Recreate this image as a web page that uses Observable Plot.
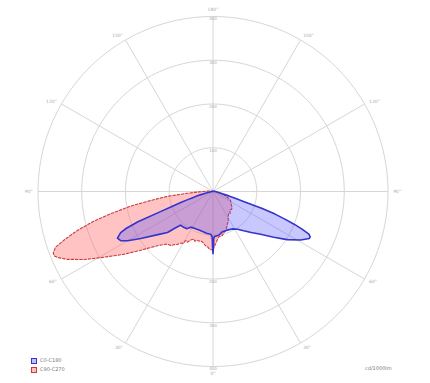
<!DOCTYPE html>
<html>
<head>
<meta charset="utf-8">
<script src="https://cdn.jsdelivr.net/npm/d3@7"></script>
<script src="https://cdn.jsdelivr.net/npm/@observablehq/plot@0.6"></script>
<style>
  html, body { margin: 0; padding: 0; background: #fff; }
  #wrap { position: relative; width: 430px; height: 383px; font-family: "DejaVu Sans", sans-serif; }
  #legend { position: absolute; left: 31px; top: 356px; font-size: 5px; color: #777; line-height: 9px; }
  #legend .row { display: flex; align-items: center; gap: 3px; }
  #legend .sw { width: 6px; height: 6px; box-sizing: border-box; }
  #unit { position: absolute; left: 365px; top: 365px; font-size: 5px; color: #777; }
</style>
</head>
<body>
<div id="wrap"></div>
<script>
// Series names
const seriesNames = ["C0-C180", "C90-C270"];
const unitLabel = "cd/1000lm";

// Grid values (cd/klm) and angle tick labels
const ringValues = [100, 200, 300, 400];
const spokeAngles = [0, 30, 60, 90, 120, 150, 180, 210, 240, 270, 300, 330];
const angleTickGamma = [0, 30, 60, 90, 120, 150, 180];
const angleTickLabels = ["0°", "30°", "60°", "90°", "120°", "150°", "180°"];

// C0 half-plane (right), gamma in degrees, intensity in cd/klm
const gammaC0 = [0, 0.5, 1, 2, 4, 7.5, 12.5, 20, 27, 33, 38, 43, 48, 53, 57, 61, 64, 65, 66, 67, 68, 69, 70, 71, 72, 73, 74, 75, 77, 80, 85, 90, 95, 100, 120, 180];
const intC0 =    [142, 126, 107, 103, 102, 101, 95, 94, 96, 103, 114, 128, 146, 174, 202, 229, 245, 245, 240, 222, 201, 176, 151, 119, 75, 53, 41, 32, 18, 11, 7, 5, 4, 3, 1, 0];

// C180 half-plane (left)
const gammaC180 = [0, 0.5, 1, 3, 8, 13, 18, 25, 32, 35, 40, 44, 46, 48, 52, 57, 60, 62, 64, 66, 67, 68, 69, 70, 71, 72, 73, 74, 75, 77, 80, 85, 90, 100, 120, 180];
const intC180 =    [142, 126, 104, 98, 97, 95, 94, 94, 96, 104, 106, 107, 120, 140, 160, 197, 225, 239, 243, 231, 215, 185, 130, 100, 78, 62, 50, 40, 32, 16, 9, 5, 3, 2, 1, 0];

// C90 half-plane (right)
const gammaC90 = [0, 3, 7, 12, 15, 18, 21, 24, 27, 30, 35, 38, 42, 46, 50, 56, 63, 70, 76, 85, 90, 100, 120, 180];
const intC90 =   [133, 119, 105, 103, 97, 94, 88, 81, 77, 69, 62, 64, 57, 59, 57, 50, 45, 32, 22, 11, 7, 4, 1, 0];

// C270 half-plane (left)
const gammaC270 = [0, 2, 4, 6, 8, 11, 14, 16, 18, 20, 22, 25, 27, 29, 30, 32, 34, 36, 38, 41, 43, 45, 48, 51, 55, 59.5, 62, 65, 67, 68, 69, 70.5, 72, 74, 76, 77.7, 80, 81.8, 84, 86, 88, 90, 93, 100, 120, 180];
const intC270 =    [133, 133, 131, 126, 125, 119, 116, 118, 117, 121, 117, 123, 130, 128, 137, 139, 146, 150, 157, 159, 166, 174, 191, 214, 251, 298, 331, 367, 386, 392, 391, 382, 357, 322, 281, 240, 190, 144, 103, 59, 37, 23, 14, 7, 1, 0];

const rad = d => d * Math.PI / 180;

function outline(name, gR, iR, gL, iL) {
  const pts = [];
  gR.forEach((g, k) => pts.push({series: name, x: iR[k] * Math.sin(rad(g)), y: -iR[k] * Math.cos(rad(g))}));
  for (let k = gL.length - 1; k >= 0; k--) {
    const g = gL[k];
    pts.push({series: name, x: -iL[k] * Math.sin(rad(g)), y: -iL[k] * Math.cos(rad(g))});
  }
  return pts;
}

const blue = outline(seriesNames[0], gammaC0, intC0, gammaC180, intC180);
const red = outline(seriesNames[1], gammaC90, intC90, gammaC270, intC270);

const rMax = d3.max(ringValues);
const rings = ringValues.flatMap(r => d3.range(0, 361, 2).map(a => ({r, x: r * Math.sin(rad(a)), y: r * Math.cos(rad(a))})));
const spokes = spokeAngles.map(a => ({x: rMax * Math.sin(rad(a)), y: rMax * Math.cos(rad(a))}));

const angleLabelsData = [];
angleTickGamma.forEach((g, k) => {
  const sides = (g === 0 || g === 180) ? [1] : [1, -1];
  const rr = (g === 0 || g === 180) ? rMax + 16 : rMax + 12;
  sides.forEach(s => angleLabelsData.push({
    text: angleTickLabels[k],
    x: s * rr * Math.sin(rad(g)),
    y: -rr * Math.cos(rad(g)),
    anchor: (g === 0 || g === 180) ? "middle" : (s > 0 ? "start" : "end")
  }));
});
const ringLabelsData = ringValues.flatMap(v => [{text: String(v), x: 0, y: v}, {text: String(v), x: 0, y: -v}]);

const plot = Plot.plot({
  width: 430,
  height: 383,
  marginLeft: 37.5,
  marginRight: 42.5,
  marginTop: 16,
  marginBottom: 17,
  x: {domain: [-rMax, rMax], axis: null},
  y: {domain: [-rMax, rMax], axis: null},
  style: {background: "#fff", fontFamily: "DejaVu Sans, sans-serif"},
  marks: [
    Plot.line(rings, {x: "x", y: "y", z: "r", stroke: "#d6d6d6", strokeWidth: 1}),
    Plot.link(spokes, {x1: 0, y1: 0, x2: "x", y2: "y", stroke: "#d6d6d6", strokeWidth: 1}),
    Plot.text(ringLabelsData, {x: "x", y: "y", text: "text", fontSize: 4, fill: "#aaa", dy: 2.5}),
    Plot.text(angleLabelsData.filter(d => d.anchor === "start"), {x: "x", y: "y", text: "text", fontSize: 4.5, fill: "#aaa", textAnchor: "start"}),
    Plot.text(angleLabelsData.filter(d => d.anchor === "end"), {x: "x", y: "y", text: "text", fontSize: 4.5, fill: "#aaa", textAnchor: "end"}),
    Plot.text(angleLabelsData.filter(d => d.anchor === "middle"), {x: "x", y: "y", text: "text", fontSize: 4.5, fill: "#aaa", textAnchor: "middle"}),
    Plot.line(red, {x: "x", y: "y", curve: "linear-closed", fill: "#ff7070", fillOpacity: 0.42, stroke: "#cc3b3b", strokeWidth: 1.1, strokeDasharray: "2.5,1.8"}),
    Plot.line(blue, {x: "x", y: "y", curve: "linear-closed", fill: "#4a4aff", fillOpacity: 0.3, stroke: "#3434cc", strokeWidth: 1.6})
  ]
});

const wrap = document.getElementById("wrap");
wrap.appendChild(plot);

const legend = document.createElement("div");
legend.id = "legend";
const legendStyles = [
  {fill: "rgba(74,74,255,0.35)", border: "1px solid #3434cc"},
  {fill: "rgba(255,112,112,0.45)", border: "1px dashed #cc3b3b"}
];
seriesNames.forEach((n, k) => {
  const row = document.createElement("div");
  row.className = "row";
  const sw = document.createElement("span");
  sw.className = "sw";
  sw.style.background = legendStyles[k].fill;
  sw.style.border = legendStyles[k].border;
  const t = document.createElement("span");
  t.textContent = n;
  row.appendChild(sw);
  row.appendChild(t);
  legend.appendChild(row);
});
wrap.appendChild(legend);

const unit = document.createElement("div");
unit.id = "unit";
unit.textContent = unitLabel;
wrap.appendChild(unit);
</script>
</body>
</html>
